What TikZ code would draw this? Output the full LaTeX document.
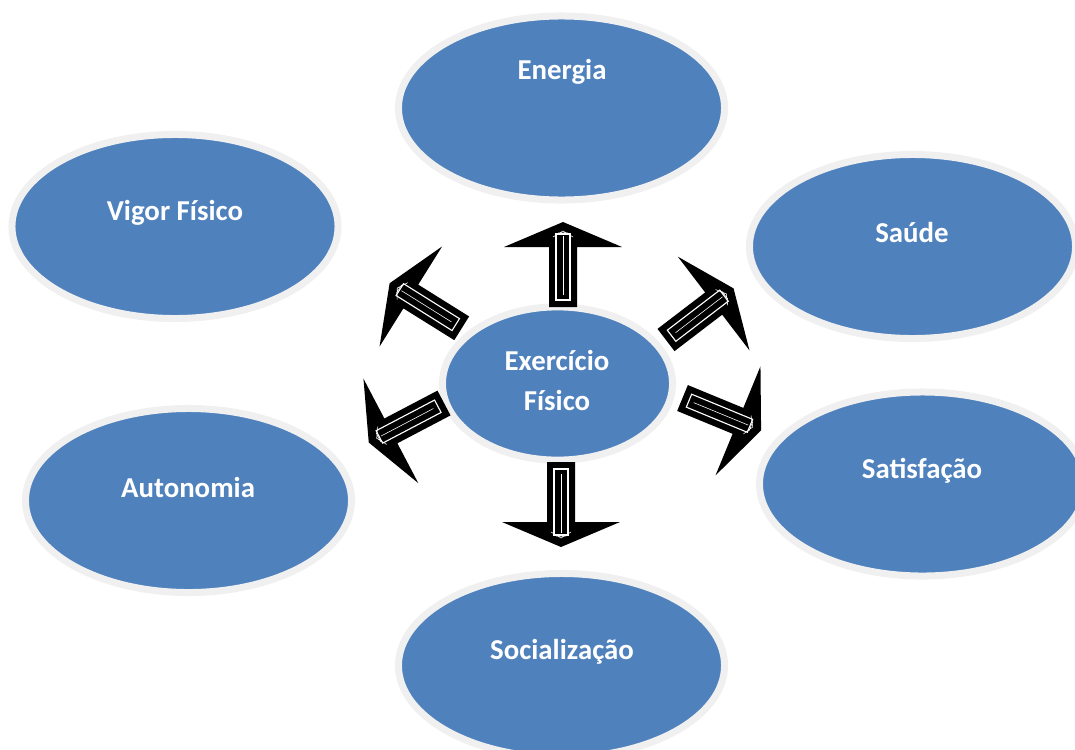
\documentclass[tikz,border=0pt]{standalone}
\usepackage{fontspec}
\setmainfont{Carlito}
\usetikzlibrary{shapes.geometric}

\definecolor{bubbleblue}{RGB}{79,129,189}
\definecolor{rimgray}{RGB}{240,240,240}

\tikzset{
  blockarrow/.pic={
    \fill[black] (0,-14) -- (60,-14) -- (60,-59) -- (85,0) -- (60,59) -- (60,14) -- (0,14) -- cycle;
    \draw[white,line width=0.8pt,fill=black] (7,-7) rectangle (73,7);
    \draw[white,line width=0.4pt] (12,0) -- (71,0);
    \draw[white,line width=0.4pt] (70,-10) -- (76,0) -- (70,10) (74,-5) -- (74,5);
  }
}

\begin{document}
\begin{tikzpicture}[x=0.025cm,y=-0.025cm,
  bubble/.style={ellipse,fill=bubbleblue,draw=rimgray,line width=1.75mm,
    minimum width=8.15cm,minimum height=4.6cm,inner sep=0pt},
  core/.style={bubble,minimum width=5.75cm,minimum height=3.83cm},
  txt/.style={text=white,font=\bfseries\fontsize{20.5}{29}\selectfont,align=center}]

\useasboundingbox (0,0) rectangle (1075,749);
\clip (0,0) rectangle (1075,749);

% outer bubbles
\node[bubble](energia) at (561.5,108){};
\node[bubble](vigor) at (175,226.5){};
\node[bubble](saude) at (912.5,246.5){};
\node[bubble](autonomia) at (188.5,500.5){};
\node[bubble](satisfacao) at (922.5,484){};
\node[bubble](socializacao) at (561.5,665.5){};
\node[core](exercicio) at (557.5,383.5){};

% labels
\node[txt](t-energia) at (562,72){Energia};
\node[txt](t-vigor) at (175,213){Vigor Físico};
\node[txt](t-saude) at (912,232){Saúde};
\node[txt](t-autonomia) at (188,487){Autonomia};
\node[txt](t-satisfacao) at (922,471){Satisfação};
\node[txt](t-socializacao) at (562,652){Socialização};
\node[txt](t-exercicio) at (557,380.5){Exercício\\Físico};

% arrows
\coordinate(b-energia) at (563,307);
\coordinate(b-vigor) at (461.7,328.3);
\coordinate(b-saude) at (666,340);
\coordinate(b-autonomia) at (444,403);
\coordinate(b-satisfacao) at (682.5,398);
\coordinate(b-socializacao) at (561,462);

\pic[rotate=90] at (b-energia){blockarrow};
\pic[rotate=148] at (b-vigor){blockarrow};
\pic[rotate=37.4] at (b-saude){blockarrow};
\pic[rotate=207.7] at (b-autonomia){blockarrow};
\pic[rotate=-22.4] at (b-satisfacao){blockarrow};
\pic[rotate=-90] at (b-socializacao){blockarrow};

\end{tikzpicture}
\end{document}
